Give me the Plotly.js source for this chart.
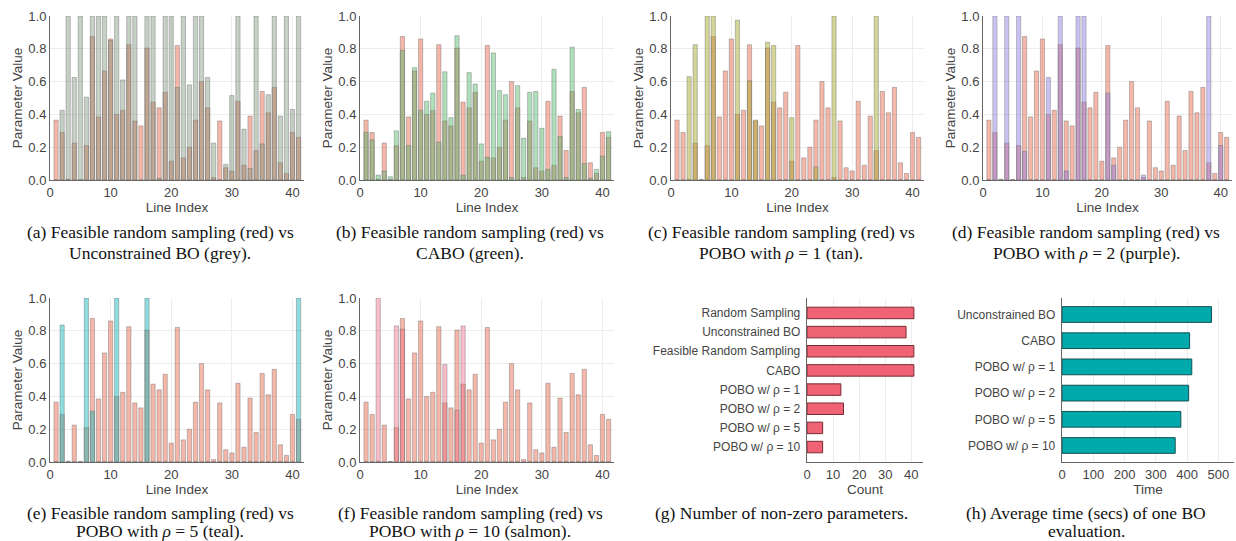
<!DOCTYPE html>
<html>
<head>
<meta charset="utf-8">
<script src="https://cdn.plot.ly/plotly-3.0.1.min.js"></script>
<style>html,body{margin:0;padding:0;background:#fff;}#chart{width:1236px;height:541px;}</style>
</head>
<body>
<div id="chart"></div>
<script>
// ---------- DATA ----------
const lineIndex = [1,2,3,4,5,6,7,8,9,10,11,12,13,14,15,16,17,18,19,20,21,22,23,24,25,26,27,28,29,30,31,32,33,34,35,36,37,38,39,40,41];

const feasibleRandom = [0.365,0.29,0.005,0.225,0.003,0.21,0.875,0.385,0.665,0.86,0.40,0.425,0.825,0.36,0.33,0.805,0.475,0.44,0.535,0.115,0.82,0.135,0.20,0.365,0.60,0.44,0.015,0.36,0.075,0.055,0.48,0.09,0.39,0.18,0.54,0.41,0.565,0.105,0.04,0.29,0.26];

const unconstrainedBO = [0,0.425,1,0.625,1,0.505,1,1,1,0.85,1,0.61,1,1,0,1,1,0.01,1,1,0.565,1,0.58,1,1,0.625,0.225,0,0.095,0.515,1,0.31,0.07,1,0.22,0.52,1,0.39,1,0.43,1];

const cabo = [0.29,0.245,0.03,0.055,0.02,0.30,0.79,0.21,0.685,0.425,0.48,0.53,0.23,0.66,0.38,0.88,0.03,0.655,0.585,0.22,0.14,0.775,0.545,0.52,0.015,0.575,0.255,0.535,0.54,0.315,0.065,0.675,0.265,0.015,0.81,0.43,0.10,0.01,0.065,0.145,0.295];

const pobo1 = [0,0,0.63,0.825,0,1,1,0,0,0,0.975,0,0.605,0.365,0,0.84,0.82,0,0,0.38,0,0,0,0.08,0,0,1,0,0,0,0,0,0,1,0,0,0,0,0,0,0];

const pobo2 = [0,1,0,1,0,1,0.175,0,0,0,0.625,0,1,0.055,0,1,1,0,0,0,0.53,0.09,0,0,0,0,0.03,0,0,0,0,0,0,0,0,0,0,1,0,0.21,0];

const pobo5 = [0,0.835,0,0,0,1,0.31,0,0,0,1,0,0,0,0,1,0,0,0,0,0,0,0,0,0,0,0,0,0,0,0,0,0,0,0,0,0,0,0,0,1];

const pobo10 = [0,0,1,0,0,0.83,0.81,0,0,0,0,0,0,0.595,0,0.315,0.83,0,0,0,0,0,0,0,0,0,0,0,0,0,0,0,0,0,0,0,0,0,0,0,0];

const countMethods = ["Random Sampling","Unconstrained BO","Feasible Random Sampling","CABO","POBO w/ ρ = 1","POBO w/ ρ = 2","POBO w/ ρ = 5","POBO w/ ρ = 10"];
const nonZeroCounts = [41,38,41,41,13,14,6,6];

const timeMethods = ["Unconstrained BO","CABO","POBO w/ ρ = 1","POBO w/ ρ = 2","POBO w/ ρ = 5","POBO w/ ρ = 10"];
const avgTimes = [478,408,415,405,380,362];

const captions = [
  ["(a) Feasible random sampling (red) vs", "Unconstrained BO (grey)."],
  ["(b) Feasible random sampling (red) vs", "CABO (green)."],
  ["(c) Feasible random sampling (red) vs", "POBO with <i>ρ</i> = 1 (tan)."],
  ["(d) Feasible random sampling (red) vs", "POBO with <i>ρ</i> = 2 (purple)."],
  ["(e) Feasible random sampling (red) vs", "POBO with <i>ρ</i> = 5 (teal)."],
  ["(f) Feasible random sampling (red) vs", "POBO with <i>ρ</i> = 10 (salmon)."],
  ["(g) Number of non-zero parameters."],
  ["(h) Average time (secs) of one BO", "evaluation."]
];

// ---------- LAYOUT HELPERS ----------
const W = 1236, H = 541;
const px = x => x / W;
const py = y => 1 - y / H;

const sans = "Liberation Sans, Arial, sans-serif";
const tickFont = {family: sans, size: 13, color: "#444"};
const catFont = {family: sans, size: 12, color: "#444"};
const titleFont = {family: sans, size: 13.5, color: "#444"};

const comps = [
  {src: unconstrainedBO, color: "rgba(120,145,120,0.42)"},
  {src: cabo, color: "rgba(80,185,105,0.45)"},
  {src: pobo1, color: "rgba(170,172,50,0.5)"},
  {src: pobo2, color: "rgba(140,120,230,0.45)"},
  {src: pobo5, color: "rgba(30,185,190,0.5)"},
  {src: pobo10, color: "rgba(240,110,135,0.45)"}
];
const redColor = "rgba(232,105,75,0.48)";
const edge = {color: "rgba(90,90,90,0.45)", width: 0.8};

// panel boxes in pixels: [left, right, top, bottom]
const boxes = [
  [50, 304, 16, 180],
  [360, 614, 16, 180],
  [671, 924, 16, 180],
  [983, 1232, 16, 180],
  [50, 304, 298, 462],
  [360, 614, 298, 462],
  [807, 923, 298, 462],
  [1062, 1234, 298, 462]
];

const data = [];
const layout = {
  width: W, height: H,
  margin: {l: 0, r: 0, t: 0, b: 0},
  paper_bgcolor: "#fff", plot_bgcolor: "#fff",
  showlegend: false,
  barmode: "overlay",
  annotations: []
};

function axisBase() {
  return {
    showline: true, linecolor: "#666", linewidth: 1,
    showgrid: true, gridcolor: "#ededed", gridwidth: 1,
    zeroline: false, ticks: "", tickfont: tickFont,
    fixedrange: true, automargin: false
  };
}

for (let i = 0; i < 8; i++) {
  const n = i + 1;
  const xa = "xaxis" + (n === 1 ? "" : n);
  const ya = "yaxis" + (n === 1 ? "" : n);
  const xr = "x" + (n === 1 ? "" : n);
  const yr = "y" + (n === 1 ? "" : n);
  const b = boxes[i];
  const xd = [px(b[0]), px(b[1])];
  const yd = [py(b[3]), py(b[2])];

  if (i < 6) {
    data.push({type: "bar", x: lineIndex, y: feasibleRandom, xaxis: xr, yaxis: yr,
      width: 0.7, marker: {color: redColor, line: edge}, hoverinfo: "x+y"});
    data.push({type: "bar", x: lineIndex, y: comps[i].src, xaxis: xr, yaxis: yr,
      width: 0.7, marker: {color: comps[i].color, line: edge}, hoverinfo: "x+y"});
    layout[xa] = Object.assign(axisBase(), {
      domain: xd, anchor: yr, range: [0, 41.9], tickvals: [0,10,20,30,40],
      title: {text: "Line Index", font: titleFont, standoff: 2}
    });
    layout[ya] = Object.assign(axisBase(), {
      domain: yd, anchor: xr, range: [0, 1], tickvals: [0,0.2,0.4,0.6,0.8,1.0],
      tickformat: ".1f",
      title: {text: "Parameter Value", font: titleFont, standoff: 2}
    });
  } else if (i === 6) {
    data.push({type: "bar", orientation: "h", y: countMethods, x: nonZeroCounts,
      xaxis: xr, yaxis: yr, width: 0.6,
      marker: {color: "#f06374", line: {color: "#7a2a33", width: 1}}});
    layout[xa] = Object.assign(axisBase(), {
      domain: xd, anchor: yr, range: [0, 44.5], tickvals: [0,10,20,30,40],
      title: {text: "Count", font: titleFont, standoff: 2}
    });
    layout[ya] = Object.assign(axisBase(), {
      domain: yd, anchor: xr, type: "category", categoryorder: "array",
      categoryarray: countMethods, range: [7.78, -0.78], showgrid: false,
      ticksuffix: " ", tickfont: catFont
    });
  } else {
    data.push({type: "bar", orientation: "h", y: timeMethods, x: avgTimes,
      xaxis: xr, yaxis: yr, width: 0.6,
      marker: {color: "#00a9ac", line: {color: "#135252", width: 1}}});
    layout[xa] = Object.assign(axisBase(), {
      domain: xd, anchor: yr, range: [0, 550], tickvals: [0,100,200,300,400,500],
      title: {text: "Time", font: titleFont, standoff: 2}
    });
    layout[ya] = Object.assign(axisBase(), {
      domain: yd, anchor: xr, type: "category", categoryorder: "array",
      categoryarray: timeMethods, range: [5.63, -0.63], showgrid: false,
      ticksuffix: " ", tickfont: catFont
    });
  }
}

// captions
const capX = [160, 470, 781, 1086, 160, 470, 781, 1086];
const capY = [[232, 253], [513, 531]];
const serif = "Liberation Serif, Times New Roman, serif";
captions.forEach((lines, i) => {
  const row = i < 4 ? 0 : 1;
  lines.forEach((t, j) => {
    layout.annotations.push({
      text: t, xref: "paper", yref: "paper",
      x: px(capX[i]), y: py(capY[row][j]),
      xanchor: "center", yanchor: "middle", showarrow: false,
      font: {family: serif, size: 17.5, color: "#111"}
    });
  });
});

Plotly.newPlot("chart", data, layout, {displayModeBar: false, staticPlot: true});
</script>
</body>
</html>
